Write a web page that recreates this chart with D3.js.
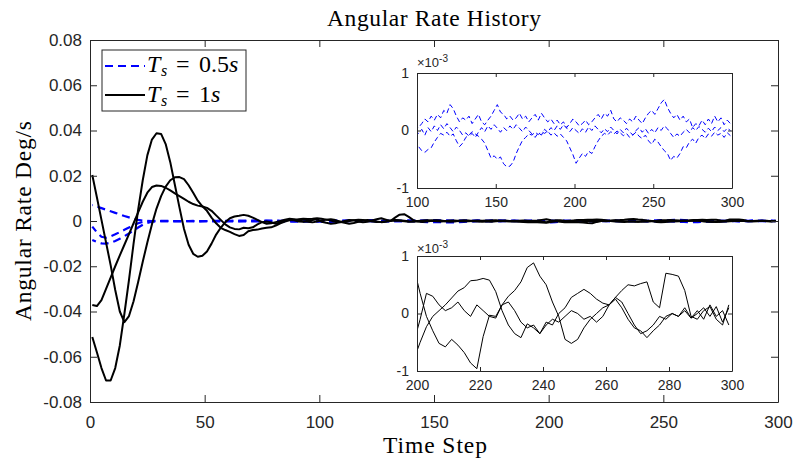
<!DOCTYPE html>
<html><head><meta charset="utf-8">
<script src="https://cdn.jsdelivr.net/npm/d3@7"></script>
<style>body{margin:0;background:#fff}svg{display:block}</style>
</head><body>
<svg id="c" width="795" height="461"></svg>
<script>
// values are stored in units of 1e-5 deg/s
const UNIT = 1e-5;
const timeSteps = d3.range(1, 300, 2);

const black1 = [
2030,1050,50,-950,-1950,-3050,-4000,-4470,-4200,-3550,
-2700,-1800,-950,-150,550,1100,1520,1800,1930,1940,
1850,1580,1250,900,650,450,150,-100,-300,-400,
-480,-580,-660,-620,-450,-400,-380,-330,-300,-280,
-200,-100,-20,30,40,80,100,90,100,120,
100,60,20,-30,-60,-40,0,30,50,40,
10,-20,-40,-30,-10,20,40,30,10,-10,
-20,-10,0,10,20,10,-5,-10,0,10,
15,5,-5,-10,0,10,20,10,0,-10,
-5,5,10,0,-10,-5,10,20,50,80,
35,-5,-30,-52,-58,-45,-55,-68,-86,-96,
-40,-3,-5,15,20,5,-15,-25,-20,-35,
-20,-10,-15,-5,5,0,-10,-5,-15,-5,
15,25,10,-10,-25,-30,-42,-30,-20,-5,
0,-5,5,-8,0,10,-5,12,-15,10];

const black2 = [
-3710,-3760,-3500,-3000,-2500,-2000,-1520,-1050,-580,-100,
380,850,1250,1500,1570,1550,1470,1350,1220,1100,
980,850,750,680,640,580,450,250,50,-150,
-280,-350,-370,-300,-320,-280,-150,-50,-20,-60,
-120,-60,20,60,30,-20,-30,10,40,80,
-30,-80,-120,-100,-50,0,40,30,-20,-60,
-30,20,80,120,60,0,150,280,300,180,
40,-20,-40,-20,10,30,20,-10,-30,-20,
10,30,20,0,-20,-30,-10,20,30,10,
-10,-20,-10,10,20,10,-10,-20,-35,-50,
-10,35,30,15,5,10,20,5,-5,15,
5,-5,-8,15,30,40,55,80,88,65,
50,20,-5,-45,-52,-45,-25,-10,0,10,
15,28,20,0,-20,-35,-30,-20,-5,-10,
0,-5,10,-8,5,-10,15,-5,5,-20];

const black3 = [
-5130,-5800,-6500,-7050,-7050,-6500,-5500,-4100,-2600,-1000,
500,1800,2900,3600,3880,3850,3400,2600,1600,600,
-350,-1050,-1450,-1580,-1540,-1350,-1000,-600,-300,-50,
120,200,230,270,230,150,50,-50,-120,-100,
-50,0,60,100,80,20,-10,-30,-60,-20,
20,60,80,40,-20,-80,-120,-90,-30,20,
40,10,-20,-50,-30,0,20,10,-10,-30,
-20,0,20,30,10,-10,-20,0,20,10,
-10,-20,-10,10,20,0,-20,-30,-10,10,
20,0,-20,-30,-40,-50,-55,-60,-70,-80,
-50,-23,-5,5,15,27,39,45,57,58,
61,58,38,5,-20,-35,-42,-18,-25,-35,
-15,-20,0,10,28,35,42,35,25,18,
15,28,40,50,48,52,55,20,10,70,
68,65,40,-5,-10,5,12,-10,-20,15];

const blue1 = [
710,640,570,500,430,360,290,220,160,100,
50,20,5,-5,-10,-12,-12,-10,-8,-6,
-5,-4,-3,-2,-2,0,3,5,8,10,
8,12,15,10,14,18,12,20,15,22,
18,12,20,25,18,28,22,15,20,10,
5,12,20,15,25,18,28,22,35,30,
45,38,25,15,22,18,25,12,20,28,
15,10,18,25,35,45,32,28,20,25,
18,22,30,20,25,15,22,28,18,30,
22,15,20,12,18,10,15,5,12,20,
15,8,12,18,10,15,22,28,20,30,
25,35,20,15,22,18,12,20,15,25,
18,12,22,30,35,28,38,48,54,40,
30,22,28,18,25,15,20,5,12,8,
18,10,20,12,25,15,22,10,18,12];

const blue2 = [
-250,-500,-700,-740,-680,-590,-490,-390,-290,-190,
-100,-40,-10,0,5,5,3,0,-2,-3,
-2,0,2,-3,-5,-2,3,-4,2,-6,
0,5,-3,4,-2,6,0,-5,3,-4,
5,-2,6,0,-6,2,-4,5,-3,0,
-5,2,-8,5,-2,8,0,10,3,12,
5,-2,6,0,-8,-4,-10,-5,-12,-3,
5,-2,8,2,10,4,-3,5,0,8,
2,10,4,-2,6,0,-6,-12,-4,-8,
2,-3,5,0,8,2,10,4,-2,5,
0,-5,3,-3,6,0,8,2,-4,3,
-2,6,0,-6,2,-4,4,-2,-8,0,
5,-3,3,-5,2,-4,5,0,8,3,
-5,-12,-6,-10,-3,2,-4,5,0,7,
2,-3,4,-2,6,0,5,-2,4,0];

const blue3 = [
-840,-930,-990,-1000,-960,-880,-780,-670,-550,-420,
-290,-170,-80,-30,-10,-5,-8,-10,-12,-10,
-8,-10,-12,-15,-12,-10,-14,-16,-12,-15,
-18,-14,-12,-16,-20,-15,-18,-22,-16,-20,
-24,-18,-22,-26,-20,-24,-28,-22,-25,-26,
-28,-35,-38,-33,-30,-20,-12,-5,-8,-3,
-10,-6,-18,-28,-22,-12,-8,-2,-6,-10,
-15,-22,-35,-48,-44,-50,-46,-58,-63,-62,
-55,-40,-28,-17,-12,-6,-8,-3,-7,-2,
-5,-1,-8,-4,-10,-6,-12,-18,-30,-42,
-57,-48,-40,-45,-36,-40,-28,-18,-10,-5,
-8,-2,-6,-1,-4,-9,-5,-12,-8,-3,
-10,-14,-8,-18,-24,-15,-20,-28,-35,-40,
-52,-45,-48,-40,-28,-30,-20,-15,-22,-12,
-8,-14,-6,-10,-3,-8,-5,-12,-4,-9];

const blueSeries = [blue1, blue2, blue3];
const blackSeries = [black1, black2, black3];

const xTicks = [0,50,100,150,200,250,300];
const yTicks = [-0.08,-0.06,-0.04,-0.02,0,0.02,0.04,0.06,0.08];
const yTickLabels = ["-0.08","-0.06","-0.04","-0.02","0","0.02","0.04","0.06","0.08"];
const topInsetXTicks = [100,150,200,250,300];
const botInsetXTicks = [200,220,240,260,280,300];
const insetYTicks = [-1e-3,0,1e-3];
const insetYTickLabels = ["-1","0","1"];
const legendLabels = ["0.5","1"];
const titleText = "Angular Rate History";
const xLabelText = "Time Step";
const yLabelText = "Angular Rate Deg/s";

const svg = d3.select('#c');
const AX = '#262626';
const SANS = "'Liberation Sans', Arial, Helvetica, sans-serif";
const SERIF = "'Liberation Serif', 'Times New Roman', serif";

function styleAxis(g, fs){
  g.attr('font-family', SANS).attr('font-size', fs);
  g.select('.domain').attr('stroke', AX).attr('stroke-width', 1);
  g.selectAll('.tick line').attr('stroke', AX);
  g.selectAll('.tick text').attr('fill', AX);
}

// ---------- main axes ----------
const M = {l:90, r:778, t:40, b:402};
const x = d3.scaleLinear().domain([0,300]).range([M.l, M.r]);
const y = d3.scaleLinear().domain([-0.08,0.08]).range([M.b, M.t]);

const defs = svg.append('defs');
defs.append('clipPath').attr('id','clipMain')
  .append('rect').attr('x',M.l).attr('y',M.t).attr('width',M.r-M.l).attr('height',M.b-M.t);

const main = svg.append('g').attr('clip-path','url(#clipMain)');
const line = d3.line().x((d,i)=>x(timeSteps[i])).y(d=>y(d*UNIT));
const DASH = [8,5], PERIOD = 13;
blueSeries.forEach(s=>{
  const p = main.append('path').attr('d', line(s)).attr('fill','none')
    .attr('stroke','#0000ff').attr('stroke-width',2.2).attr('stroke-dasharray',DASH.join(','));
  // align dash phase of the three overlapping lines once they settle near zero
  const tmp = svg.append('path').attr('d', line(s.slice(0,13))).attr('fill','none');
  const L = tmp.node().getTotalLength(); tmp.remove();
  p.attr('stroke-dashoffset', PERIOD - (L % PERIOD));
});
blackSeries.forEach(s=>{
  main.append('path').attr('d', line(s)).attr('fill','none')
    .attr('stroke','#000').attr('stroke-width',2).attr('stroke-linejoin','round');
});

const TK = 7;
styleAxis(svg.append('g').attr('transform',`translate(0,${M.b})`)
  .call(d3.axisBottom(x).tickValues(xTicks).tickSizeInner(-TK).tickSizeOuter(0).tickPadding(14)), 17);
styleAxis(svg.append('g').attr('transform',`translate(${M.l},0)`)
  .call(d3.axisLeft(y).tickValues(yTicks).tickFormat((d,i)=>yTickLabels[i]).tickSizeInner(-TK).tickSizeOuter(0).tickPadding(8)), 17);
styleAxis(svg.append('g').attr('transform',`translate(0,${M.t})`)
  .call(d3.axisTop(x).tickValues(xTicks).tickFormat('').tickSizeInner(-TK).tickSizeOuter(0)), 17);
styleAxis(svg.append('g').attr('transform',`translate(${M.r},0)`)
  .call(d3.axisRight(y).tickValues(yTicks).tickFormat('').tickSizeInner(-TK).tickSizeOuter(0)), 17);

// titles
svg.append('text').attr('x',(M.l+M.r)/2).attr('y',26).attr('text-anchor','middle')
  .attr('font-family',SERIF).attr('font-size',23.5).attr('fill','#000')
  .attr('textLength',214).attr('lengthAdjust','spacing').text(titleText);
svg.append('text').attr('x',435).attr('y',453).attr('text-anchor','middle')
  .attr('font-family',SERIF).attr('font-size',23.5).attr('fill','#000')
  .attr('textLength',104).attr('lengthAdjust','spacing').text(xLabelText);
svg.append('text').attr('transform',`translate(31,${(M.t+M.b)/2}) rotate(-90)`).attr('text-anchor','middle')
  .attr('font-family',SERIF).attr('font-size',23.5).attr('fill','#000')
  .attr('textLength',200).attr('lengthAdjust','spacing').text(yLabelText);

// legend
const lg = svg.append('g');
lg.append('rect').attr('x',102).attr('y',50).attr('width',144).attr('height',61)
  .attr('fill','#fff').attr('stroke',AX).attr('stroke-width',1);
const rows = [{y:66, base:72, color:'#0000ff', dash:'8,5'}, {y:95, base:101.5, color:'#000', dash:null}];
rows.forEach((r,i)=>{
  lg.append('line').attr('x1',105).attr('x2',145).attr('y1',r.y).attr('y2',r.y)
    .attr('stroke',r.color).attr('stroke-width',2.2).attr('stroke-dasharray',r.dash);
  const t = lg.append('g').attr('font-family',SERIF).attr('fill','#000');
  t.append('text').attr('x',147).attr('y',r.base).attr('font-size',24).attr('font-style','italic').text('T');
  t.append('text').attr('x',161).attr('y',r.base+4).attr('font-size',16).attr('font-style','italic').text('s');
  t.append('text').attr('x',176).attr('y',r.base).attr('font-size',24).text('=');
  t.append('text').attr('x',199).attr('y',r.base).attr('font-size',24).text(legendLabels[i]);
  t.append('text').attr('x', i===0 ? 229 : 211).attr('y',r.base).attr('font-size',24).attr('font-style','italic').text('s');
});

// ---------- insets ----------
function inset(id, x0, x1, y0, y1, dom, xt, series, color, dash, expBase){
  const xi = d3.scaleLinear().domain(dom).range([x0,x1]);
  const yi = d3.scaleLinear().domain([-1e-3,1e-3]).range([y1,y0]);
  const g = svg.append('g');
  g.append('rect').attr('x',x0).attr('y',y0).attr('width',x1-x0).attr('height',y1-y0).attr('fill','#fff');
  defs.append('clipPath').attr('id',id)
    .append('rect').attr('x',x0).attr('y',y0).attr('width',x1-x0).attr('height',y1-y0);
  const pg = g.append('g').attr('clip-path',`url(#${id})`);
  const ln = d3.line().x((d,i)=>xi(timeSteps[i])).y(d=>yi(d*UNIT));
  series.forEach(s=>{
    pg.append('path').attr('d', ln(s)).attr('fill','none').attr('stroke',color)
      .attr('stroke-width',1).attr('stroke-dasharray',dash);
  });
  const tk = 4;
  styleAxis(g.append('g').attr('transform',`translate(0,${y1})`)
    .call(d3.axisBottom(xi).tickValues(xt).tickSizeInner(-tk).tickSizeOuter(0).tickPadding(9.5)), 14);
  styleAxis(g.append('g').attr('transform',`translate(${x0},0)`)
    .call(d3.axisLeft(yi).tickValues(insetYTicks).tickFormat((d,i)=>insetYTickLabels[i]).tickSizeInner(-tk).tickSizeOuter(0).tickPadding(8)), 14);
  styleAxis(g.append('g').attr('transform',`translate(0,${y0})`)
    .call(d3.axisTop(xi).tickValues(xt).tickFormat('').tickSizeInner(-tk).tickSizeOuter(0)), 14);
  styleAxis(g.append('g').attr('transform',`translate(${x1},0)`)
    .call(d3.axisRight(yi).tickValues(insetYTicks).tickFormat('').tickSizeInner(-tk).tickSizeOuter(0)), 14);
  const ex = g.append('text').attr('x',x0).attr('y',expBase).attr('font-family',SANS).attr('fill',AX).attr('font-size',13);
  ex.append('tspan').text('\u00d710');
  ex.append('tspan').attr('font-size',10).attr('dy',-5).text('-3');
}
inset('clipTop', 417, 732, 73, 188, [100,300], topInsetXTicks, blueSeries, '#0000ff', '5,3', 67);
inset('clipBot', 417, 732, 256, 371, [200,300], botInsetXTicks, blackSeries, '#000', null, 253);
</script>
</body></html>
